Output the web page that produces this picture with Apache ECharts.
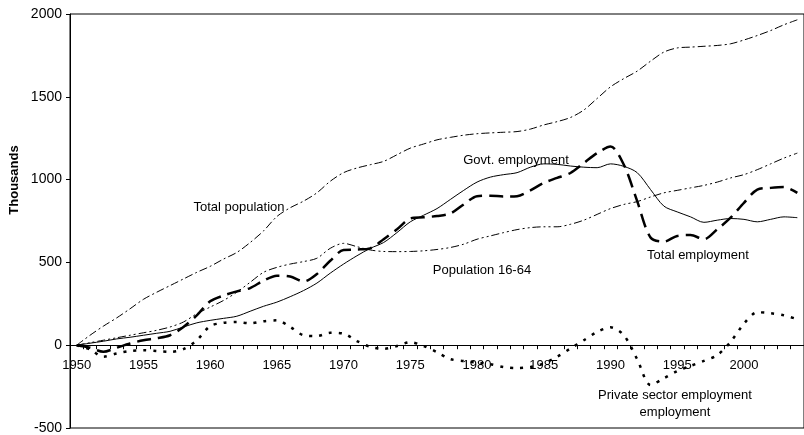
<!DOCTYPE html>
<html>
<head>
<meta charset="utf-8">
<script src="https://cdn.jsdelivr.net/npm/echarts@6/dist/echarts.min.js"></script>
<style>
  html, body { margin: 0; padding: 0; background: #fff; }
  #chart { width: 804px; height: 435px; }
</style>
</head>
<body>
<div id="chart"></div>
<script>
// years on the category axis
const years = [];
for (let y = 1950; y <= 2004; y++) years.push(String(y));

const totalPopulation = [0, 60, 115, 165, 220, 277, 320, 360, 400, 440,
  476, 520, 560, 620, 690, 777, 830, 870, 920, 990,
  1042, 1070, 1090, 1110, 1150, 1190, 1215, 1240, 1255, 1268,
  1277, 1282, 1286, 1290, 1305, 1330, 1350, 1375, 1420, 1490,
  1560, 1610, 1655, 1715, 1770, 1795, 1800, 1805, 1810, 1820,
  1843, 1870, 1900, 1935, 1965];

const population1664 = [0, 15, 30, 45, 60, 75, 90, 110, 140, 190,
  230, 270, 320, 380, 440, 470, 490, 505, 525, 585,
  615, 595, 575, 566, 565, 566, 570, 578, 590, 610,
  640, 660, 680, 698, 710, 715, 715, 730, 755, 790,
  825, 850, 867, 895, 920, 935, 950, 965, 985, 1010,
  1030, 1060, 1095, 1130, 1160];

const govtEmployment = [0, 12, 24, 38, 48, 60, 72, 84, 110, 135,
  150, 162, 175, 205, 235, 260, 293, 330, 375, 435,
  490, 540, 585, 620, 680, 745, 785, 825, 880, 935,
  985, 1015, 1030, 1042, 1075, 1095, 1092, 1082, 1075, 1072,
  1095, 1080, 1042, 940, 840, 805, 775, 742, 755, 765,
  760, 745, 760, 775, 770];

const totalEmployment = [0, -15, -40, -15, 10, 30, 42, 60, 110, 180,
  265, 300, 325, 345, 390, 420, 415, 385, 430, 510,
  575, 578, 585, 640, 700, 765, 772, 780, 795, 850,
  900, 903, 898, 900, 935, 980, 1010, 1040, 1100, 1160,
  1200, 1090, 870, 650, 625, 660, 665, 640, 700, 770,
  860, 940, 950, 955, 920];

const privateEmployment = [0, -25, -70, -50, -35, -30, -35, -40, -24, 30,
  115, 135, 140, 132, 145, 150, 110, 60, 55, 75,
  70, 25, -10, -22, -5, 18, -5, -42, -84, -95,
  -105, -115, -132, -138, -132, -110, -70, -20, 30, 80,
  108, 60, -84, -240, -200, -156, -125, -95, -60, 20,
  130, 199, 193, 180, 157];

const font = 'Liberation Sans, Arial, sans-serif';
const chart = echarts.init(document.getElementById('chart'));

const gridTop = 14;
const gridBottom = 7;
const yMin = -500;
const yMax = 2000;
// move the x axis up so it sits on the zero line, labels included
const plotH = 435 - gridTop - gridBottom;
const zeroOffset = -plotH * (0 - yMin) / (yMax - yMin);

function lineSeries(name, data, width, dash) {
  return {
    name: name,
    type: 'line',
    data: data,
    smooth: 0.3,
    symbol: 'none',
    lineStyle: { color: '#000', width: width, type: dash },
  }
}

function note(text, x, y) {
  return {
    type: 'text',
    x: x,
    y: y,
    style: { text: text, fill: '#000', font: '13px ' + font, textAlign: 'center', textVerticalAlign: 'middle' },
  }
}

chart.setOption({
  animation: false,
  backgroundColor: '#fff',
  grid: {
    left: 70,
    right: -1,
    top: gridTop,
    bottom: gridBottom,
    show: true,
    borderColor: '#000',
    borderWidth: 1,
  },
  xAxis: {
    type: 'category',
    data: years,
    boundaryGap: true,
    offset: zeroOffset,
    axisLine: { onZero: false, lineStyle: { color: '#000', width: 1 } },
    axisTick: { show: true, interval: 0, length: 4, lineStyle: { color: '#000' } },
    axisLabel: { interval: 4, color: '#000', fontSize: 13, fontFamily: font, margin: 14 },
    splitLine: { show: false },
  },
  yAxis: {
    type: 'value',
    min: yMin,
    max: yMax,
    interval: 500,
    axisLine: { show: true, lineStyle: { color: '#000', width: 1 } },
    axisTick: { show: true, length: 4, lineStyle: { color: '#000' } },
    axisLabel: { color: '#000', fontSize: 14, fontFamily: font, margin: 8, formatter: (v) => String(v) },
    splitLine: { show: false },
  },
  series: [
    lineSeries('Total population', totalPopulation, 1, [8, 3, 2, 3]),
    lineSeries('Population 16-64', population1664, 1, [8, 3, 2, 3, 2, 3]),
    lineSeries('Govt. employment', govtEmployment, 1, 'solid'),
    lineSeries('Total employment', totalEmployment, 2.5, [14, 7]),
    lineSeries('Private sector employment', privateEmployment, 2.5, [3, 7]),
  ],
  graphic: [
    {
      type: 'text',
      x: 14,
      y: 180,
      rotation: Math.PI / 2,
      style: { text: 'Thousands', fill: '#000', font: 'bold 13px ' + font, textAlign: 'center', textVerticalAlign: 'middle' },
    },
    note('Total population', 239, 207),
    note('Govt. employment', 516, 160),
    note('Population 16-64', 482, 270),
    note('Total employment', 698, 255),
    note('Private sector employment', 675, 395),
    note('employment', 675, 412),
  ],
})
</script>
</body>
</html>
